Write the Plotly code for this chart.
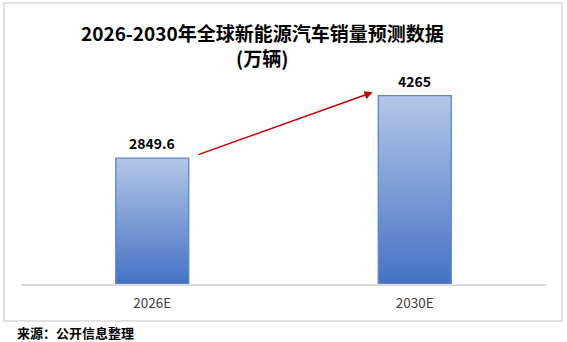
import plotly.graph_objects as go

categories = ["2026E", "2030E"]
values = [2849.6, 4265]
labels = ["2849.6", "4265"]
title_line1 = "2026-2030年全球新能源汽车销量预测数据"
title_line2 = "(万辆)"
source_text = "来源：公开信息整理"

W, H = 567, 342
ml, mr, mt, mb = 21, 21, 72, 58
ymax = 4800
pw = W - ml - mr
ph = H - mt - mb


def py(pix):
    return (H - pix - mb) / ph


def px(pix):
    return (pix - ml) / pw


bar_half = 0.139
fig = go.Figure()

for i, v in enumerate(values):
    xs = [i - bar_half, i + bar_half, i + bar_half, i - bar_half, i - bar_half]
    ys = [0, 0, v, v, 0]
    fig.add_trace(go.Scatter(
        x=xs, y=ys, mode="lines", fill="toself",
        line=dict(color="#5a86d4", width=1.3),
        fillgradient=dict(type="vertical",
                          colorscale=[[0, "#4472c4"], [1, "#b4c7e7"]]),
        hoverinfo="skip", showlegend=False,
    ))
    fig.add_annotation(
        x=i, y=v, xref="x", yref="y", text=labels[i], showarrow=False,
        yshift=15, yanchor="middle",
        font=dict(family="Noto Sans CJK SC, Noto Sans", size=14, color="#000000", weight="bold"),
    )

# trend arrow
fig.add_annotation(
    x=0.84, y=4342, ax=0.17, ay=2917,
    xref="x", yref="y", axref="x", ayref="y",
    text="", showarrow=True, arrowhead=2, arrowsize=1.1, arrowwidth=1.5,
    arrowcolor="#c00000",
)

# title
for txt, ypix in [(title_line1, 32), (title_line2, 58)]:
    fig.add_annotation(
        x=px(262), y=py(ypix), xref="paper", yref="paper",
        text=txt, showarrow=False,
        font=dict(family="Noto Sans CJK SC", size=19, color="#000000", weight="bold"),
        yanchor="middle", xanchor="center",
    )

fig.add_annotation(
    x=px(15), y=py(332), xref="paper", yref="paper",
    text=source_text, showarrow=False, xanchor="left", yanchor="middle",
    font=dict(family="Noto Sans CJK SC", size=13, color="#000000", weight="bold"),
)

# outer frame
fig.add_shape(
    type="rect", xref="paper", yref="paper",
    x0=px(4), x1=px(562), y0=py(321), y1=py(3),
    line=dict(color="#d9d9d9", width=1.5), fillcolor="rgba(0,0,0,0)", layer="below",
)

fig.update_layout(
    width=W, height=H,
    margin=dict(l=ml, r=mr, t=mt, b=mb),
    paper_bgcolor="white", plot_bgcolor="white",
    xaxis=dict(
        range=[-0.5, len(categories) - 0.5],
        tickmode="array", tickvals=list(range(len(categories))), ticktext=categories,
        showgrid=False, zeroline=False, showline=True, linecolor="#d9d9d9", linewidth=1.5,
        ticks="", ticklabelstandoff=6,
        tickfont=dict(family="Microsoft YaHei, Noto Sans CJK SC", size=13.5, color="#404040"),
        fixedrange=True,
    ),
    yaxis=dict(range=[0, ymax], visible=False, fixedrange=True),
)

fig.write_html("out.html")
